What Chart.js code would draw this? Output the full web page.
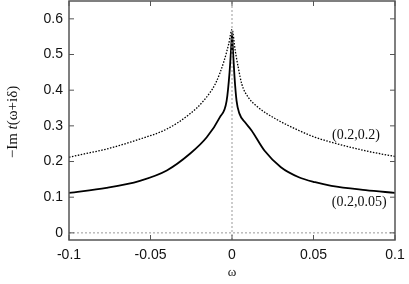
<!DOCTYPE html>
<html>
<head>
  <title>-Im t</title>
  <script src="https://cdn.jsdelivr.net/npm/chart.js"></script>
  <style>
    body { margin: 0; padding: 0; background: #fff; }
    #wrap { width: 409px; height: 284px; }
  </style>
</head>
<body>
  <div id="wrap"><canvas id="myChart"></canvas></div>
  <script>
    // (0.2,0.2) curve, dotted
    const omegaA = [-0.1, -0.09, -0.077, -0.0565, -0.04, -0.026, -0.0175, -0.01, -0.005, -0.002, 0,
                    0.002, 0.004, 0.006, 0.01, 0.016, 0.027, 0.041, 0.051, 0.061, 0.082, 0.1];
    const valA   = [0.212, 0.222, 0.235, 0.263, 0.291, 0.333, 0.37, 0.42, 0.48, 0.53, 0.57,
                    0.51, 0.46, 0.417, 0.38, 0.352, 0.319, 0.287, 0.268, 0.254, 0.23, 0.214];
    // (0.2,0.05) curve, solid
    const omegaB = [-0.1, -0.077, -0.0565, -0.04, -0.026, -0.0155, -0.0075, -0.0033, -0.0015, -0.0005, 0,
                    0.0005, 0.0015, 0.0028, 0.0045, 0.008, 0.012, 0.02, 0.03, 0.041, 0.051, 0.061, 0.082, 0.1];
    const valB   = [0.112, 0.126, 0.146, 0.175, 0.221, 0.268, 0.324, 0.37, 0.45, 0.52, 0.56,
                    0.52, 0.44, 0.37, 0.335, 0.31, 0.287, 0.23, 0.184, 0.156, 0.142, 0.132, 0.12, 0.112];
    const xTicks = [-0.1, -0.05, 0, 0.05, 0.1];
    const yTicks = [0, 0.1, 0.2, 0.3, 0.4, 0.5, 0.6];
    const labels = [
      { text: '(0.2,0.2)', x: 0.076, y: 0.274 },
      { text: '(0.2,0.05)', x: 0.078, y: 0.086 }
    ];

    const pts = (xs, ys) => xs.map((x, i) => ({ x: x, y: ys[i] }));

    const frame = {
      id: 'frame',
      afterDraw(chart) {
        const c = chart.ctx, a = chart.chartArea;
        const xs = chart.scales.x, ys = chart.scales.y;
        c.save();
        c.strokeStyle = '#555';
        c.lineWidth = 1.5;
        c.strokeRect(a.left, a.top, a.right - a.left, a.bottom - a.top);
        c.lineWidth = 1;
        c.beginPath();
        xTicks.forEach(v => {
          const p = xs.getPixelForValue(v);
          c.moveTo(p, a.bottom); c.lineTo(p, a.bottom - 5);
          c.moveTo(p, a.top); c.lineTo(p, a.top + 5);
        });
        yTicks.forEach(v => {
          const p = ys.getPixelForValue(v);
          c.moveTo(a.left, p); c.lineTo(a.left + 5, p);
          c.moveTo(a.right, p); c.lineTo(a.right - 5, p);
        });
        c.stroke();

        // curve labels
        c.fillStyle = '#111';
        c.font = '14px "Liberation Serif", serif';
        c.textAlign = 'center';
        c.textBaseline = 'middle';
        labels.forEach(l => c.fillText(l.text, xs.getPixelForValue(l.x), ys.getPixelForValue(l.y)));

        // y title with italic t
        c.translate(13, 122);
        c.rotate(-Math.PI / 2);
        const parts = [
          ['\u2212Im ', '15px "Liberation Serif", serif'],
          ['t', 'italic 15px "Liberation Serif", serif'],
          ['(\u03c9+i\u03b4)', '15px "Liberation Serif", serif']
        ];
        let w = 0;
        parts.forEach(p => { c.font = p[1]; w += c.measureText(p[0]).width; });
        let x0 = -w / 2;
        c.textAlign = 'left';
        parts.forEach(p => { c.font = p[1]; c.fillText(p[0], x0, 0); x0 += c.measureText(p[0]).width; });
        c.restore();
      }
    };

    const ctx = document.getElementById('myChart').getContext('2d');
    new Chart(ctx, {
      type: 'line',
      data: {
        datasets: [
          {
            data: [{ x: -0.1, y: 0 }, { x: 0.1, y: 0 }],
            borderColor: '#999', borderWidth: 1, borderDash: [2, 2], pointRadius: 0
          },
          {
            data: [{ x: 0, y: -0.02 }, { x: 0, y: 0.65 }],
            borderColor: '#999', borderWidth: 1, borderDash: [2, 2], pointRadius: 0
          },
          {
            data: pts(omegaA, valA),
            borderColor: '#000', borderWidth: 1.3, borderDash: [1.5, 1.5],
            pointRadius: 0, cubicInterpolationMode: 'monotone'
          },
          {
            data: pts(omegaB, valB),
            borderColor: '#000', borderWidth: 1.8,
            pointRadius: 0, cubicInterpolationMode: 'monotone'
          }
        ]
      },
      options: {
        responsive: true,
        maintainAspectRatio: false,
        animation: false,
        layout: { autoPadding: false, padding: { top: 1, right: 14, left: 0, bottom: 0 } },
        plugins: { legend: { display: false }, tooltip: { enabled: false } },
        scales: {
          x: {
            type: 'linear', min: -0.1, max: 0.1,
            grid: { display: false, drawTicks: false },
            border: { display: false },
            afterBuildTicks: s => { s.ticks = xTicks.map(v => ({ value: v })); },
            afterFit: s => { s.height = 44; s.paddingLeft = 0; s.paddingRight = 0; },
            ticks: {
              color: '#111', padding: 7,
              font: { family: '"Liberation Sans", Arial, sans-serif', size: 14 },
              callback: v => String(v)
            },
            title: {
              display: true, text: '\u03c9', color: '#111', padding: { top: 6 },
              font: { family: '"Liberation Serif", serif', size: 13 }
            }
          },
          y: {
            min: -0.02, max: 0.65,
            grid: { display: false, drawTicks: false },
            border: { display: false },
            afterBuildTicks: s => { s.ticks = yTicks.map(v => ({ value: v })); },
            afterFit: s => { s.width = 69; s.paddingTop = 0; s.paddingBottom = 0; },
            ticks: {
              color: '#111', padding: 6,
              font: { family: '"Liberation Sans", Arial, sans-serif', size: 14 },
              callback: v => String(v)
            }
          }
        }
      },
      plugins: [frame]
    });
  </script>
</body>
</html>
